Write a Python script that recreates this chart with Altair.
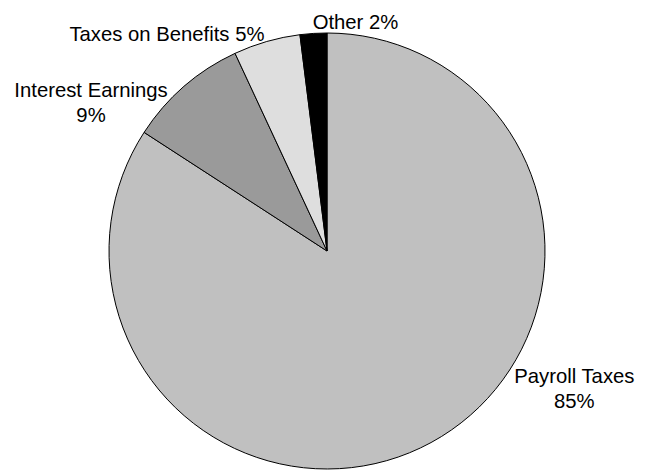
import altair as alt
import pandas as pd

categories = ["Payroll Taxes", "Interest Earnings", "Taxes on Benefits", "Other"]
shares = [85, 9, 5, 2]
label_texts = [["Payroll Taxes", "85%"], ["Interest Earnings", "9%"], ["Taxes on Benefits 5%"], ["Other 2%"]]
colors = ["#c0c0c0", "#9a9a9a", "#dedede", "#000000"]

df = pd.DataFrame({
    "category": categories,
    "share": shares,
    "idx": list(range(len(categories))),
})

CX, CY, R = 319, 243, 218
FONT = "Liberation Sans"

base = alt.Chart(df)

pie = base.mark_arc(stroke="black", strokeWidth=1, outerRadius=R).encode(
    x=alt.value(CX),
    y=alt.value(CY),
    theta=alt.Theta("share:Q", stack=True),
    order=alt.Order("idx:Q"),
    color=alt.Color("category:N", scale=alt.Scale(domain=categories, range=colors), legend=None),
)

# label offsets (pixels) from an anchor at radius 250 on each slice's mid angle
label_offsets = {
    "Payroll Taxes": (128, -88),
    "Interest Earnings": (-72, 35),
    "Taxes on Benefits": (-91, 30),
    "Other": (44, 28),
}

mid = base.transform_joinaggregate(total="sum(share)").transform_window(
    cum="sum(share)", sort=[alt.SortField("idx")], frame=[None, 0]
).transform_calculate(
    mid="(datum.cum - datum.share / 2) / datum.total * 2 * PI"
)

layers = [pie]
for cat, txt in zip(categories, label_texts):
    dx, dy = label_offsets[cat]
    lbl = mid.transform_filter(alt.datum.category == cat).mark_text(
        font=FONT, fontSize=20.3, color="black", align="center",
        baseline="alphabetic", lineHeight=25, dx=dx, dy=dy,
    ).encode(
        x=alt.value(CX),
        y=alt.value(CY),
        theta=alt.Theta("mid:Q", scale=None),
        radius=alt.value(250),
        text=alt.value(txt),
    )
    layers.append(lbl)

chart = alt.layer(*layers).properties(
    width=629, height=462, autosize="none", padding=0
).configure_view(stroke=None)

chart.save("out.html", embed_options={"renderer": "svg", "actions": False})
